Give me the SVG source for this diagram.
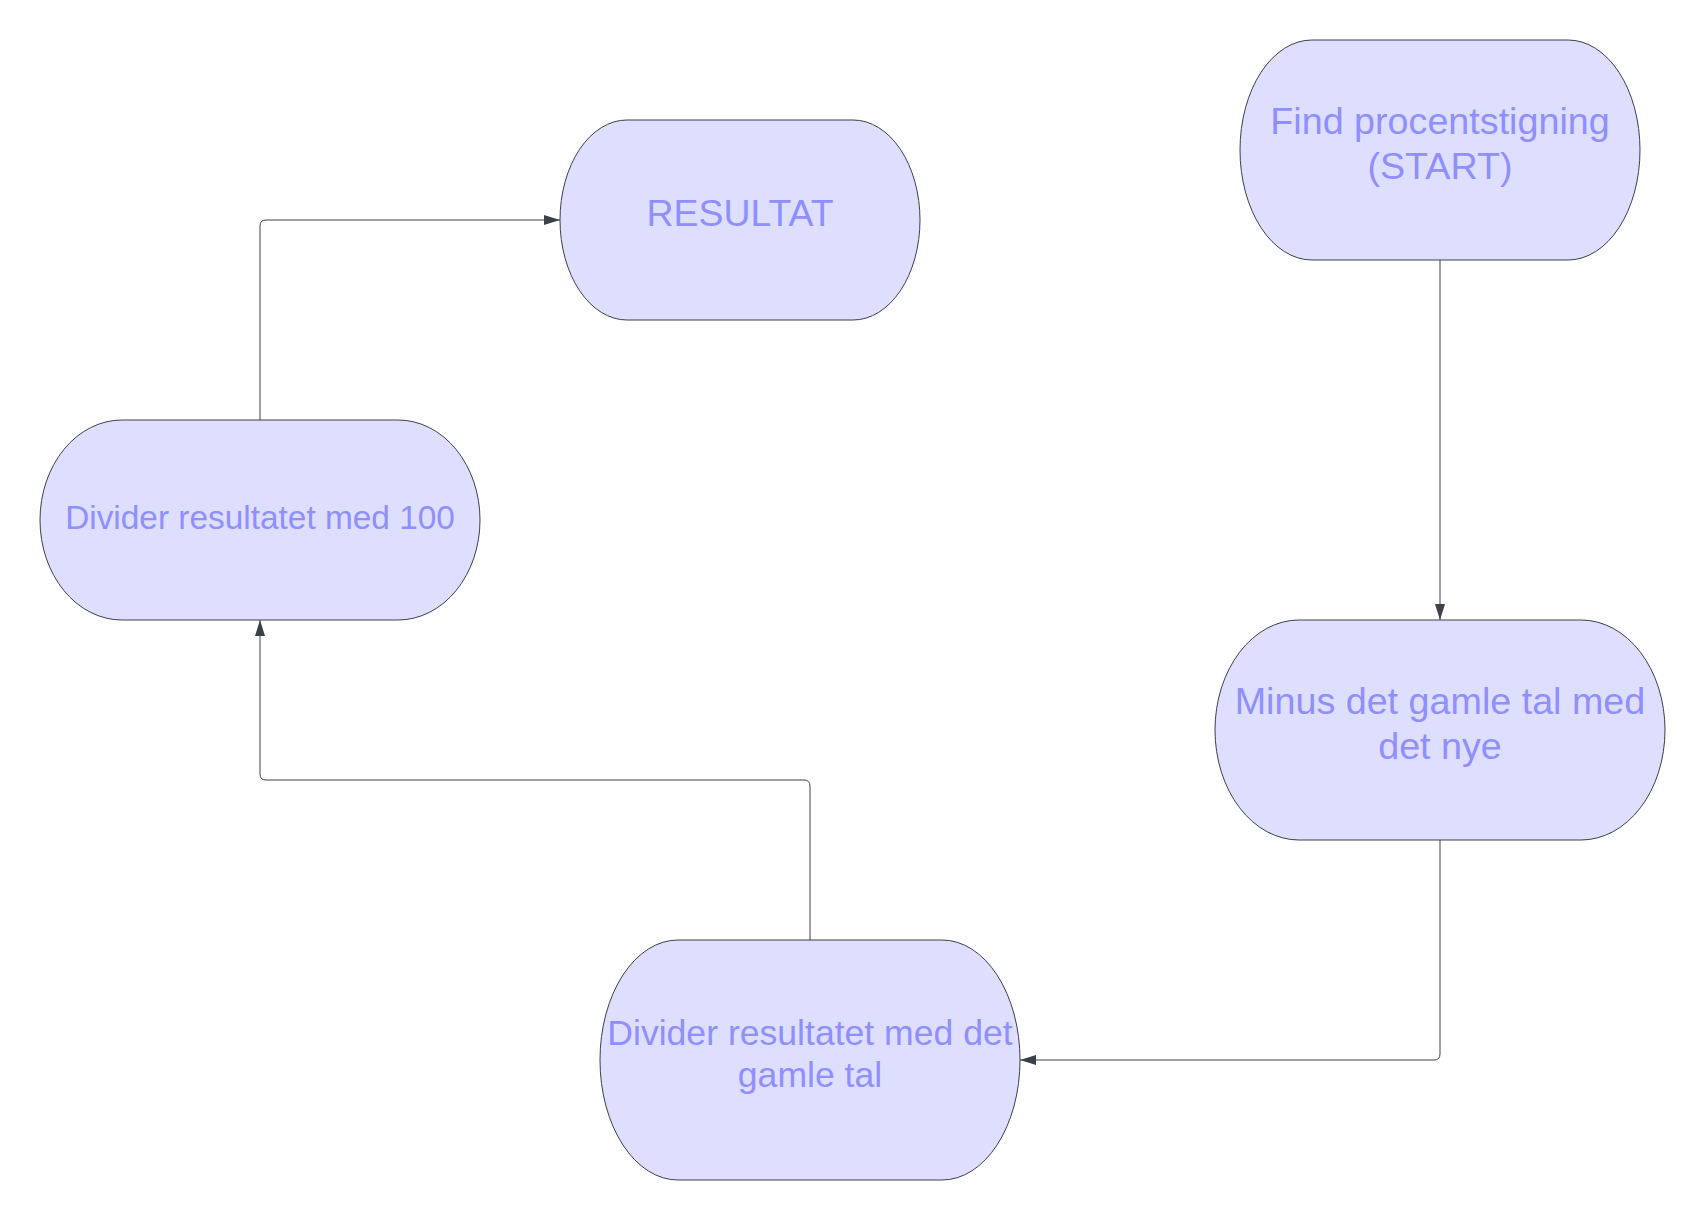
<svg xmlns="http://www.w3.org/2000/svg" width="1705" height="1220" viewBox="0 0 1705 1220">
<style>
.node{fill:#dedeff;stroke:#3a414a;stroke-width:1}
.lbl{font-family:"Liberation Sans",Arial,sans-serif;fill:#8f8fff;text-anchor:middle}
.conn{fill:none;stroke:#3a414a;stroke-width:1;marker-end:url(#arr)}
</style>
<defs>
<marker id="arr" markerUnits="userSpaceOnUse" markerWidth="16" markerHeight="10" refX="16" refY="5" orient="auto">
<path d="M0,0 L16,5 L0,10 z" fill="#3a414a"/>
</marker>
</defs>
<rect width="1705" height="1220" fill="#ffffff"/>
<g id="connectors">
<path class="conn" d="M1440,260 V620"/>
<path class="conn" d="M1440,840 V1054 Q1440,1060 1434,1060 H1020"/>
<path class="conn" d="M810,940 V786 Q810,780 804,780 H266 Q260,780 260,774 V620"/>
<path class="conn" d="M260,420 V226 Q260,220 266,220 H560"/>
</g>
<g id="node-start">
<rect class="node" x="1240" y="40" width="400" height="220" rx="72" ry="110"/>
<text class="lbl" font-size="37.7" x="1440" y="134">Find procentstigning</text>
<text class="lbl" font-size="37.7" x="1440" y="179">(START)</text>
</g>
<g id="node-resultat">
<rect class="node" x="560" y="120" width="360" height="200" rx="67" ry="100"/>
<text class="lbl" font-size="37.4" x="740" y="226">RESULTAT</text>
</g>
<g id="node-divider100">
<rect class="node" x="40" y="420" width="440" height="200" rx="82" ry="100"/>
<text class="lbl" font-size="33.4" x="260" y="529">Divider resultatet med 100</text>
</g>
<g id="node-minus">
<rect class="node" x="1215" y="620" width="450" height="220" rx="84" ry="110"/>
<text class="lbl" font-size="37.7" x="1440" y="714">Minus det gamle tal med</text>
<text class="lbl" font-size="37.7" x="1440" y="759">det nye</text>
</g>
<g id="node-divider-gamle">
<rect class="node" x="600" y="940" width="420" height="240" rx="78" ry="120"/>
<text class="lbl" font-size="35.6" x="810" y="1045">Divider resultatet med det</text>
<text class="lbl" font-size="35.6" x="810" y="1087">gamle tal</text>
</g>
</svg>
